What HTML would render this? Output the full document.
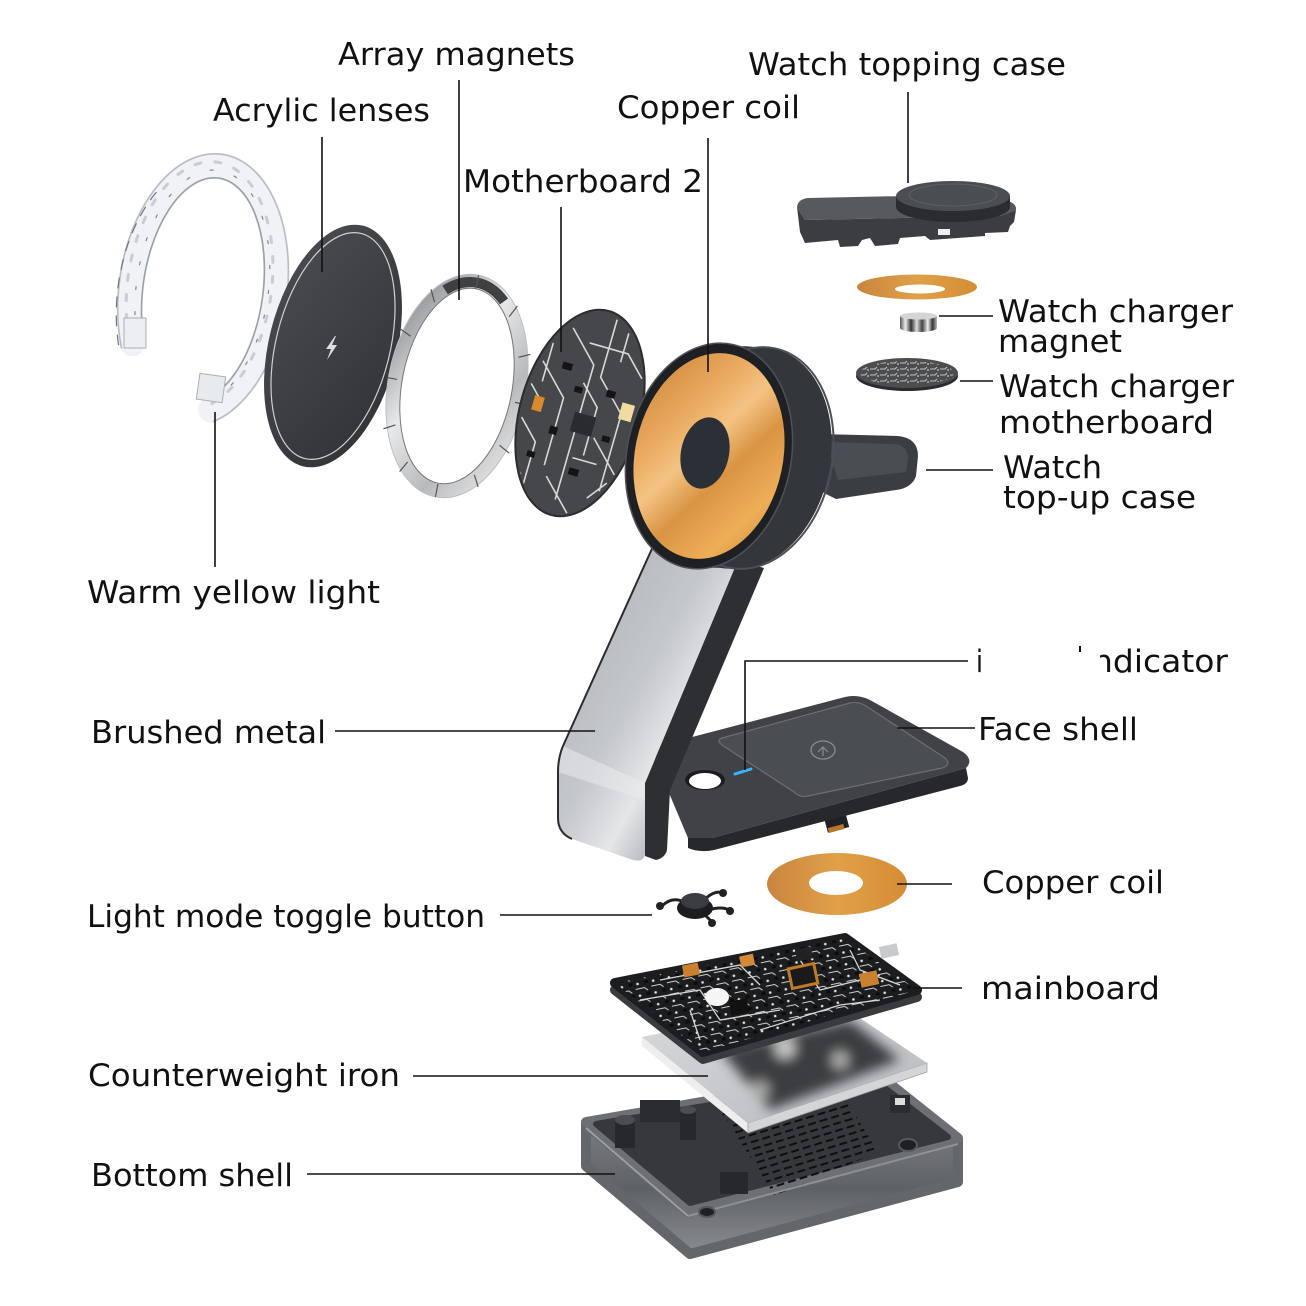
<!DOCTYPE html>
<html>
<head>
<meta charset="utf-8">
<style>
html,body{margin:0;padding:0;background:#fff;}
svg{display:block;}
text{font-family:"DejaVu Sans","Liberation Sans",sans-serif;font-size:31px;fill:#111;}
</style>
</head>
<body>
<svg width="1306" height="1306" viewBox="0 0 1306 1306" xmlns="http://www.w3.org/2000/svg">
<defs>
  <linearGradient id="copper" x1="0" y1="0" x2="1" y2="1">
    <stop offset="0" stop-color="#c98238"/>
    <stop offset="0.3" stop-color="#e9a95e"/>
    <stop offset="0.45" stop-color="#f4c384"/>
    <stop offset="0.6" stop-color="#d99443"/>
    <stop offset="0.8" stop-color="#eeae58"/>
    <stop offset="1" stop-color="#c98336"/>
  </linearGradient>
  <linearGradient id="copper2" x1="0" y1="0" x2="1" y2="0">
    <stop offset="0" stop-color="#c9853f"/>
    <stop offset="0.5" stop-color="#e0a048"/>
    <stop offset="1" stop-color="#d58d34"/>
  </linearGradient>
  <linearGradient id="silver" x1="0" y1="0" x2="1" y2="1">
    <stop offset="0" stop-color="#a9acb1"/>
    <stop offset="0.45" stop-color="#c4c7cb"/>
    <stop offset="0.62" stop-color="#e4e6e8"/>
    <stop offset="0.75" stop-color="#b5b8bd"/>
    <stop offset="1" stop-color="#9ea1a6"/>
  </linearGradient>
  <linearGradient id="ring" x1="0" y1="0" x2="1" y2="1">
    <stop offset="0" stop-color="#7d8085"/>
    <stop offset="0.4" stop-color="#e8e9ea"/>
    <stop offset="0.7" stop-color="#b8babd"/>
    <stop offset="1" stop-color="#f0f0f0"/>
  </linearGradient>
  <linearGradient id="disc" x1="0" y1="0" x2="1" y2="1">
    <stop offset="0" stop-color="#4b4d52"/>
    <stop offset="1" stop-color="#2f3135"/>
  </linearGradient>
  <linearGradient id="wall" x1="0" y1="0" x2="0" y2="1">
    <stop offset="0" stop-color="#7a7d82"/>
    <stop offset="0.5" stop-color="#5e6166"/>
    <stop offset="1" stop-color="#8a8d92"/>
  </linearGradient>
  <linearGradient id="iron" x1="0" y1="0" x2="1" y2="1">
    <stop offset="0" stop-color="#d9dbdd"/>
    <stop offset="1" stop-color="#b6b9bd"/>
  </linearGradient>
  <linearGradient id="mag" x1="0" y1="0" x2="1" y2="0">
    <stop offset="0" stop-color="#555"/>
    <stop offset="0.15" stop-color="#eee"/>
    <stop offset="0.3" stop-color="#333"/>
    <stop offset="0.45" stop-color="#ddd"/>
    <stop offset="0.6" stop-color="#444"/>
    <stop offset="0.75" stop-color="#eee"/>
    <stop offset="0.88" stop-color="#333"/>
    <stop offset="1" stop-color="#bbb"/>
  </linearGradient>
  <pattern id="pcbp" width="16" height="12" patternUnits="userSpaceOnUse" patternTransform="rotate(-12)">
    <circle cx="3" cy="3" r="1.3" fill="#e2e2e2"/>
    <path d="M0,8 L9,8 L12,11" stroke="#cfcfcf" stroke-width="1" fill="none"/>
    <rect x="10" y="1" width="4" height="3" fill="#0c0c0c"/>
  </pattern>
  <pattern id="vent" width="12" height="7" patternUnits="userSpaceOnUse" patternTransform="rotate(-17)">
    <rect x="0" y="2" width="8" height="2" fill="#0d0e10"/>
  </pattern>
  <pattern id="wpat" width="10" height="6" patternUnits="userSpaceOnUse">
    <path d="M0,3 L5,3 L7,1" stroke="#e0e0e0" stroke-width="1" fill="none"/>
    <circle cx="8" cy="4" r="0.9" fill="#eee"/>
  </pattern>
  <clipPath id="pcbclip"><ellipse cx="0" cy="0" rx="58" ry="104"/></clipPath>
  <clipPath id="ironclip"><polygon points="642,1037 830,998 927,1063 748,1123"/></clipPath>
  <clipPath id="mbclip"><polygon points="615,983 845,938 917,990 703,1052"/></clipPath>
  <filter id="blur" x="-20%" y="-20%" width="140%" height="140%"><feGaussianBlur stdDeviation="6"/></filter>
</defs>

<rect width="1306" height="1306" fill="#fff"/>

<!-- ===== Acrylic lens horseshoe ===== -->
<g transform="translate(203,290) rotate(8)" fill="none" stroke-linecap="round">
  <path d="M-62.4,62.5 A72,125 0 1 1 24.6,117.5" stroke="#f0f2f5" stroke-width="26"/>
  <path d="M-72.7,68.5 A84,137 0 1 1 28.7,128.7" stroke="#b8bdc4" stroke-width="1.6"/>
  <path d="M-52,56.5 A60,113 0 1 1 20.5,106.2" stroke="#9aa0a8" stroke-width="1.6"/>
  <path d="M-66,60 A72,125 0 1 1 22,113" stroke="#c9cdd2" stroke-width="3" stroke-dasharray="6 14"/>
  <path d="M-58,58 A66,119 0 1 1 22,110" stroke="#7f868e" stroke-width="1.2" stroke-dasharray="3 22"/>
  <path d="M-76,66 A80,133 0 0 1 -60,-90" stroke="#6f757d" stroke-width="1.2" stroke-dasharray="10 9"/>
</g>
<rect x="198" y="375" width="26" height="26" fill="#e8ebee" stroke="#aab0b7" stroke-width="1" transform="rotate(8 211 388)"/>
<rect x="124" y="318" width="22" height="30" fill="#eceef1" stroke="#aab0b7" stroke-width="1"/>

<!-- ===== Dark disc (acrylic lenses) ===== -->
<g transform="translate(333,346) rotate(14)">
  <ellipse rx="64" ry="124" fill="url(#disc)"/>
  <ellipse rx="57" ry="116" fill="none" stroke="#d0d0d0" stroke-width="1.2"/>
</g>
<path d="M335,336 L326,349 L331,349 L327,360 L337,345 L332,345 L336,336 Z" fill="#dddddd"/>

<!-- ===== Magnet ring ===== -->
<g transform="translate(457,386) rotate(11)">
  <ellipse rx="62" ry="106" fill="none" stroke="url(#ring)" stroke-width="14"/>
  <ellipse rx="55" ry="99" fill="none" stroke="#777" stroke-width="1"/>
  <ellipse rx="69" ry="113" fill="none" stroke="#bdbfc2" stroke-width="1"/>
  <path d="M-30,-92 A62,106 0 0 1 30,-92" stroke="#3e4044" stroke-width="10" fill="none"/>
  <g stroke="#555" stroke-width="1.2">
    <line x1="0" y1="-99" x2="0" y2="-113"/>
    <line x1="38" y1="-78" x2="44" y2="-90"/>
    <line x1="55" y1="-40" x2="66" y2="-45"/>
    <line x1="60" y1="5" x2="70" y2="5"/>
    <line x1="53" y1="50" x2="64" y2="56"/>
    <line x1="34" y1="84" x2="40" y2="95"/>
    <line x1="0" y1="100" x2="0" y2="113"/>
    <line x1="-34" y1="84" x2="-40" y2="95"/>
    <line x1="-53" y1="50" x2="-64" y2="56"/>
    <line x1="-60" y1="5" x2="-70" y2="5"/>
    <line x1="-55" y1="-40" x2="-66" y2="-45"/>
    <line x1="-38" y1="-78" x2="-44" y2="-90"/>
  </g>
</g>

<!-- ===== PCB disc (motherboard 2) ===== -->
<g transform="translate(580,413) rotate(16)">
  <ellipse rx="60" ry="106" fill="#46474b"/>
  <ellipse rx="60" ry="106" fill="none" stroke="#2c2d30" stroke-width="2"/>
  <g clip-path="url(#pcbclip)">
    <g stroke="#d8d8d8" stroke-width="1.6" fill="none">
      <path d="M-50,-40 L-20,-10 L-20,60 M-30,-80 L0,-50 L0,90 M10,-100 L10,-40 L40,-10 L40,70 M-55,20 L-35,40 L-35,90 M20,20 L50,50 M-10,-70 L30,-70 L50,-50 M-45,-60 L-45,-20 M25,-90 L25,-60 M-15,70 L15,100 M30,80 L45,60 M-58,60 L-40,75"/>
      <path d="M-5,-30 L15,-10 L15,40 M5,45 L30,45 M-40,0 L-55,-15"/>
    </g>
    <g fill="#141416">
      <rect x="-30" y="-45" width="10" height="7"/>
      <rect x="-12" y="-25" width="8" height="6"/>
      <rect x="20" y="-30" width="9" height="7"/>
      <rect x="-25" y="20" width="8" height="8"/>
      <rect x="5" y="55" width="10" height="7"/>
      <rect x="-40" y="50" width="8" height="6"/>
      <rect x="28" y="15" width="8" height="6"/>
      <rect x="-5" y="0" width="22" height="20" fill="#2a2b2e"/>
    </g>
    <rect x="-48" y="-5" width="10" height="15" fill="#d98a2b"/>
    <rect x="38" y="-22" width="13" height="17" fill="#f0dca0"/>
  </g>
</g>

<!-- ===== Watch top-up tray arm (behind) ===== -->
<path d="M818,434 L898,436 Q918,438 918,456 L916,476 Q912,488 896,490 L836,499 L818,490 Z" fill="#3a3d42"/>
<path d="M826,442 L895,444 Q908,446 908,458 L906,472 L838,480 Z" fill="#4a4d52"/>

<!-- ===== Base plate ===== -->
<path d="M650,748 L845,697 Q858,694 870,700 L963,752 Q974,760 966,768 L712,838 Q700,842 688,838 Z" fill="#404247"/>
<path d="M688,838 L712,838 L966,768 L968,778 Q968,784 960,786 L714,850 Q700,853 688,848 Z" fill="#26282b"/>
<path d="M722,738 L850,703 Q858,701 866,706 L945,758 Q952,765 942,768 L808,796 Q800,798 794,792 L722,745 Q716,740 722,738 Z" fill="#4a4d52" stroke="#6b6e73" stroke-width="1.2"/>
<ellipse cx="823" cy="750" rx="12" ry="9" fill="none" stroke="#8a8d92" stroke-width="1.3"/>
<path d="M818,752 L823,747 L828,752 M823,747 L823,756" stroke="#8a8d92" stroke-width="1.2" fill="none"/>
<ellipse cx="705" cy="780" rx="20" ry="10" fill="#1b1c1f"/>
<ellipse cx="705" cy="781" rx="16" ry="8" fill="#ffffff"/>
<line x1="735" y1="774" x2="751" y2="769" stroke="#35b6ff" stroke-width="3" stroke-linecap="round"/>
<rect x="826" y="818" width="22" height="12" fill="#1f2023" transform="rotate(-15 837 824)"/>
<rect x="828" y="826" width="16" height="5" fill="#b5762e" transform="rotate(-15 836 828)"/>

<!-- ===== Arm ===== -->
<path d="M738,560 L764,568 L670,790 L667,850 Q665,858 656,860 L645,856 L645,783 Z" fill="#2d2f33"/>
<path d="M655,542 L738,560 L645,783 L645,852 Q645,863 633,860 L572,839 Q558,833 558,818 L558,772 Q558,758 563,746 Z" fill="url(#silver)"/>
<path d="M563,746 Q558,758 558,772 L645,800 L645,783 Z" fill="#e9ebed" opacity="0.55"/>
<path d="M655,542 L563,746 Q558,758 558,772 L558,818 Q558,833 572,839" fill="none" stroke="#2a2c30" stroke-width="2"/>

<!-- ===== Housing + copper face ===== -->
<g fill="#33363b">
  <ellipse cx="750" cy="458" rx="80" ry="112" transform="rotate(12 750 458)"/>
  <ellipse cx="742" cy="458" rx="80" ry="112" transform="rotate(12 742 458)"/>
  <ellipse cx="734" cy="457" rx="80" ry="112" transform="rotate(12 734 457)"/>
  <ellipse cx="726" cy="457" rx="80" ry="112" transform="rotate(12 726 457)"/>
  <ellipse cx="718" cy="456" rx="80" ry="112" transform="rotate(12 718 456)"/>
</g>
<ellipse cx="752" cy="458" rx="80" ry="112" transform="rotate(12 752 458)" fill="none" stroke="#4c5056" stroke-width="2"/>
<ellipse cx="709" cy="456" rx="82" ry="114" transform="rotate(12 709 456)" fill="#1e2024" stroke="#4e5258" stroke-width="1.5"/>
<ellipse cx="709" cy="456" rx="74" ry="104" transform="rotate(12 709 456)" fill="url(#copper)"/>
<ellipse cx="705" cy="453" rx="24" ry="36" transform="rotate(12 705 453)" fill="#2b3036"/>

<!-- ===== Watch topping case ===== -->
<path d="M797,207 Q798,199 808,198 L905,196 L1005,200 Q1017,203 1016,210 L1000,216 L805,220 Z" fill="#56595e"/>
<path d="M797,207 L805,220 L1000,216 L1016,210 L1014,222 L1010,226 L1008,232 L985,233 L985,236 L930,240 L925,236 L900,238 L898,244 L875,246 L870,238 L862,240 L858,246 L840,247 L838,240 L805,243 L800,232 Z" fill="#3b3d42"/>
<rect x="938" y="229" width="12" height="6" fill="#eee"/>
<path d="M896,196 L896,207 A57,15 0 0 0 1010,207 L1010,196 Z" fill="#2a2c30"/>
<ellipse cx="953" cy="196" rx="57" ry="15" fill="#4a4d52"/>
<ellipse cx="953" cy="195" rx="44" ry="11" fill="none" stroke="#5c5f64" stroke-width="1"/>

<!-- small copper ring -->
<ellipse cx="917" cy="287" rx="60" ry="12.5" fill="url(#copper2)"/>
<ellipse cx="920" cy="289" rx="25" ry="4.5" fill="#fff"/>
<!-- magnet -->
<path d="M900,316 L900,328 A18.5,4 0 0 0 937,328 L937,316 Z" fill="url(#mag)"/>
<ellipse cx="918.5" cy="316" rx="18.5" ry="3.5" fill="#d5d5d5"/>
<!-- watch motherboard -->
<ellipse cx="907" cy="376" rx="51" ry="15" fill="#2a2b2e"/>
<ellipse cx="907" cy="373" rx="51" ry="15" fill="#4c4d51"/>
<ellipse cx="907" cy="373" rx="47" ry="12" fill="url(#wpat)" opacity="0.8"/>

<!-- ===== Bottom copper coil ===== -->
<ellipse cx="837" cy="884" rx="70" ry="31" fill="url(#copper2)"/>
<ellipse cx="836" cy="883" rx="27" ry="12" fill="#fff"/>

<!-- ===== Toggle button ===== -->
<g stroke="#222" stroke-width="3" fill="none">
  <path d="M662,906 Q672,896 684,902"/>
  <path d="M706,898 Q716,890 722,893"/>
  <path d="M706,916 Q712,922 712,922"/>
  <path d="M708,910 Q722,906 729,910"/>
</g>
<g fill="#222">
  <circle cx="660" cy="906" r="4"/>
  <circle cx="723" cy="893" r="4"/>
  <circle cx="712" cy="923" r="4"/>
  <circle cx="730" cy="911" r="4"/>
</g>
<ellipse cx="695" cy="908" rx="18" ry="11" fill="#1c1d20"/>
<ellipse cx="695" cy="901" rx="14" ry="8" fill="#3a3c40"/>

<!-- ===== Bottom shell ===== -->
<path d="M586,1124 L688,1212 L958,1140 L958,1182 L690,1254 L586,1166 Z" fill="url(#wall)" stroke="#63666b" stroke-width="10" stroke-linejoin="round"/>
<polygon points="586,1122 875,1072 958,1138 688,1210" fill="#6c6f74" stroke="#6c6f74" stroke-width="10" stroke-linejoin="round"/>
<polygon points="596,1124 872,1078 948,1137 690,1203" fill="#36383c" stroke="#36383c" stroke-width="6" stroke-linejoin="round"/>
<polygon points="722,1113 845,1098 878,1152 775,1196" fill="url(#vent)"/>
<line x1="586" y1="1128" x2="688" y2="1216" stroke="#9a9da2" stroke-width="2"/>
<line x1="688" y1="1216" x2="958" y2="1144" stroke="#8e9196" stroke-width="2"/>
<g>
  <rect x="615" y="1120" width="20" height="28" fill="#26282b"/>
  <ellipse cx="625" cy="1120" rx="10" ry="5" fill="#4a4d52"/>
  <rect x="680" y="1110" width="16" height="30" fill="#26282b"/>
  <ellipse cx="688" cy="1110" rx="8" ry="4" fill="#4a4d52"/>
  <ellipse cx="908" cy="1145" rx="9" ry="6" fill="#1f2023" stroke="#55585d" stroke-width="2"/>
  <ellipse cx="707" cy="1212" rx="8" ry="5" fill="#1f2023" stroke="#55585d" stroke-width="2"/>
  <rect x="720" y="1172" width="28" height="22" fill="#26282b"/>
  <rect x="640" y="1100" width="40" height="22" fill="#2a2c30"/>
  <rect x="890" y="1095" width="20" height="18" fill="#2a2c30"/>
  <rect x="895" y="1098" width="10" height="7" fill="#ddd"/>
</g>

<!-- ===== Counterweight iron ===== -->
<polygon points="642,1037 748,1123 748,1133 642,1046" fill="#eeeeef"/>
<polygon points="748,1123 927,1063 927,1072 748,1133" fill="#d4d5d7" stroke="#a0a2a5" stroke-width="0.8"/>
<polygon points="642,1037 830,998 927,1063 748,1123" fill="url(#iron)"/>
<g clip-path="url(#ironclip)">
  <g filter="url(#blur)">
    <polygon points="720,1050 850,1020 900,1060 770,1110" fill="#3b3c3f"/>
    <circle cx="785" cy="1048" r="10" fill="#cfcfcf"/>
    <circle cx="760" cy="1090" r="9" fill="#aaa"/>
    <circle cx="840" cy="1060" r="8" fill="#bbb"/>
  </g>
</g>

<!-- ===== Mainboard ===== -->
<polygon points="615,990 845,945 917,997 703,1059" fill="#3a3b3e" stroke="#3a3b3e" stroke-width="10" stroke-linejoin="round"/>
<polygon points="615,983 845,938 917,990 703,1052" fill="#1c1d20" stroke="#1c1d20" stroke-width="10" stroke-linejoin="round"/>
<g clip-path="url(#mbclip)">
  <rect x="600" y="930" width="330" height="130" fill="url(#pcbp)"/>
  <g stroke="#d6d6d6" stroke-width="1.3" fill="none">
    <path d="M640,1000 L700,990 L720,1020 L780,1010 M660,980 L740,965 L760,985 M800,960 L820,990 L880,975 M760,1030 L840,1005 L880,1000 M700,1040 L690,1010 M850,950 L860,970 L900,985"/>
  </g>
</g>
<g>
  <rect x="683" y="964" width="16" height="12" fill="#c9812e" transform="rotate(-12 691 970)"/>
  <rect x="740" y="955" width="14" height="11" fill="#d18a35" transform="rotate(-12 747 960)"/>
  <rect x="790" y="966" width="26" height="20" fill="#1a1a1a" stroke="#c07b2a" stroke-width="3" transform="rotate(-12 803 976)"/>
  <rect x="860" y="972" width="18" height="14" fill="#c9812e" transform="rotate(-12 869 979)"/>
  <rect x="796" y="948" width="16" height="12" fill="#222" transform="rotate(-12 804 954)"/>
  <rect x="730" y="1000" width="18" height="14" fill="#111" transform="rotate(-12 739 1007)"/>
  <rect x="880" y="945" width="18" height="12" fill="#c8cacd" transform="rotate(-12 889 951)"/>
</g>
<ellipse cx="717" cy="997" rx="12" ry="9" fill="#f5f5f5"/>

<!-- ===== Connector lines ===== -->
<g stroke="#111" stroke-width="1.6" fill="none">
  <line x1="322" y1="137" x2="322" y2="272"/>
  <line x1="459" y1="80" x2="459" y2="300"/>
  <line x1="561" y1="207" x2="561" y2="352"/>
  <line x1="708" y1="138" x2="708" y2="372"/>
  <line x1="908" y1="92" x2="908" y2="183"/>
  <line x1="939" y1="316" x2="993" y2="316"/>
  <line x1="960" y1="381" x2="993" y2="381"/>
  <line x1="926" y1="470" x2="993" y2="470"/>
  <line x1="215" y1="412" x2="215" y2="567"/>
  <line x1="335" y1="731" x2="595" y2="731"/>
  <polyline points="968,661 745,661 745,770"/>
  <line x1="897" y1="728" x2="975" y2="728"/>
  <line x1="897" y1="884" x2="952" y2="884"/>
  <line x1="500" y1="915" x2="652" y2="915"/>
  <line x1="913" y1="988" x2="962" y2="988"/>
  <line x1="413" y1="1076" x2="708" y2="1076"/>
  <line x1="307" y1="1174" x2="615" y2="1174"/>
  <line x1="1080" y1="646" x2="1080" y2="652" stroke-width="2"/>
</g>

<!-- ===== Labels ===== -->
<text x="338" y="65" textLength="237" lengthAdjust="spacingAndGlyphs">Array magnets</text>
<text x="213" y="121" textLength="217" lengthAdjust="spacingAndGlyphs">Acrylic lenses</text>
<text x="617" y="118" textLength="183" lengthAdjust="spacingAndGlyphs">Copper coil</text>
<text x="748" y="75" textLength="318" lengthAdjust="spacingAndGlyphs">Watch topping case</text>
<text x="463" y="192" textLength="240" lengthAdjust="spacingAndGlyphs">Motherboard 2</text>
<text x="998" y="322" textLength="235" lengthAdjust="spacingAndGlyphs">Watch charger</text>
<text x="998" y="352" textLength="124" lengthAdjust="spacingAndGlyphs">magnet</text>
<text x="999" y="397" textLength="235" lengthAdjust="spacingAndGlyphs">Watch charger</text>
<text x="999" y="433" textLength="215" lengthAdjust="spacingAndGlyphs">motherboard</text>
<text x="1003" y="478" textLength="99" lengthAdjust="spacingAndGlyphs">Watch</text>
<text x="1003" y="508" textLength="193" lengthAdjust="spacingAndGlyphs">top-up case</text>
<text x="87" y="603" textLength="293" lengthAdjust="spacingAndGlyphs">Warm yellow light</text>
<text x="976" y="672" textLength="7" lengthAdjust="spacingAndGlyphs">i</text>
<text x="1092" y="672" textLength="136" lengthAdjust="spacingAndGlyphs">ndicator</text>
<rect x="1090" y="644" width="10" height="32" fill="#fff"/>
<text x="978" y="740" textLength="160" lengthAdjust="spacingAndGlyphs">Face shell</text>
<text x="91" y="743" textLength="235" lengthAdjust="spacingAndGlyphs">Brushed metal</text>
<text x="982" y="893" textLength="182" lengthAdjust="spacingAndGlyphs">Copper coil</text>
<text x="87" y="927" textLength="398" lengthAdjust="spacingAndGlyphs">Light mode toggle button</text>
<text x="981" y="999" textLength="179" lengthAdjust="spacingAndGlyphs">mainboard</text>
<text x="88" y="1086" textLength="312" lengthAdjust="spacingAndGlyphs">Counterweight iron</text>
<text x="91" y="1186" textLength="202" lengthAdjust="spacingAndGlyphs">Bottom shell</text>
</svg>
</body>
</html>
